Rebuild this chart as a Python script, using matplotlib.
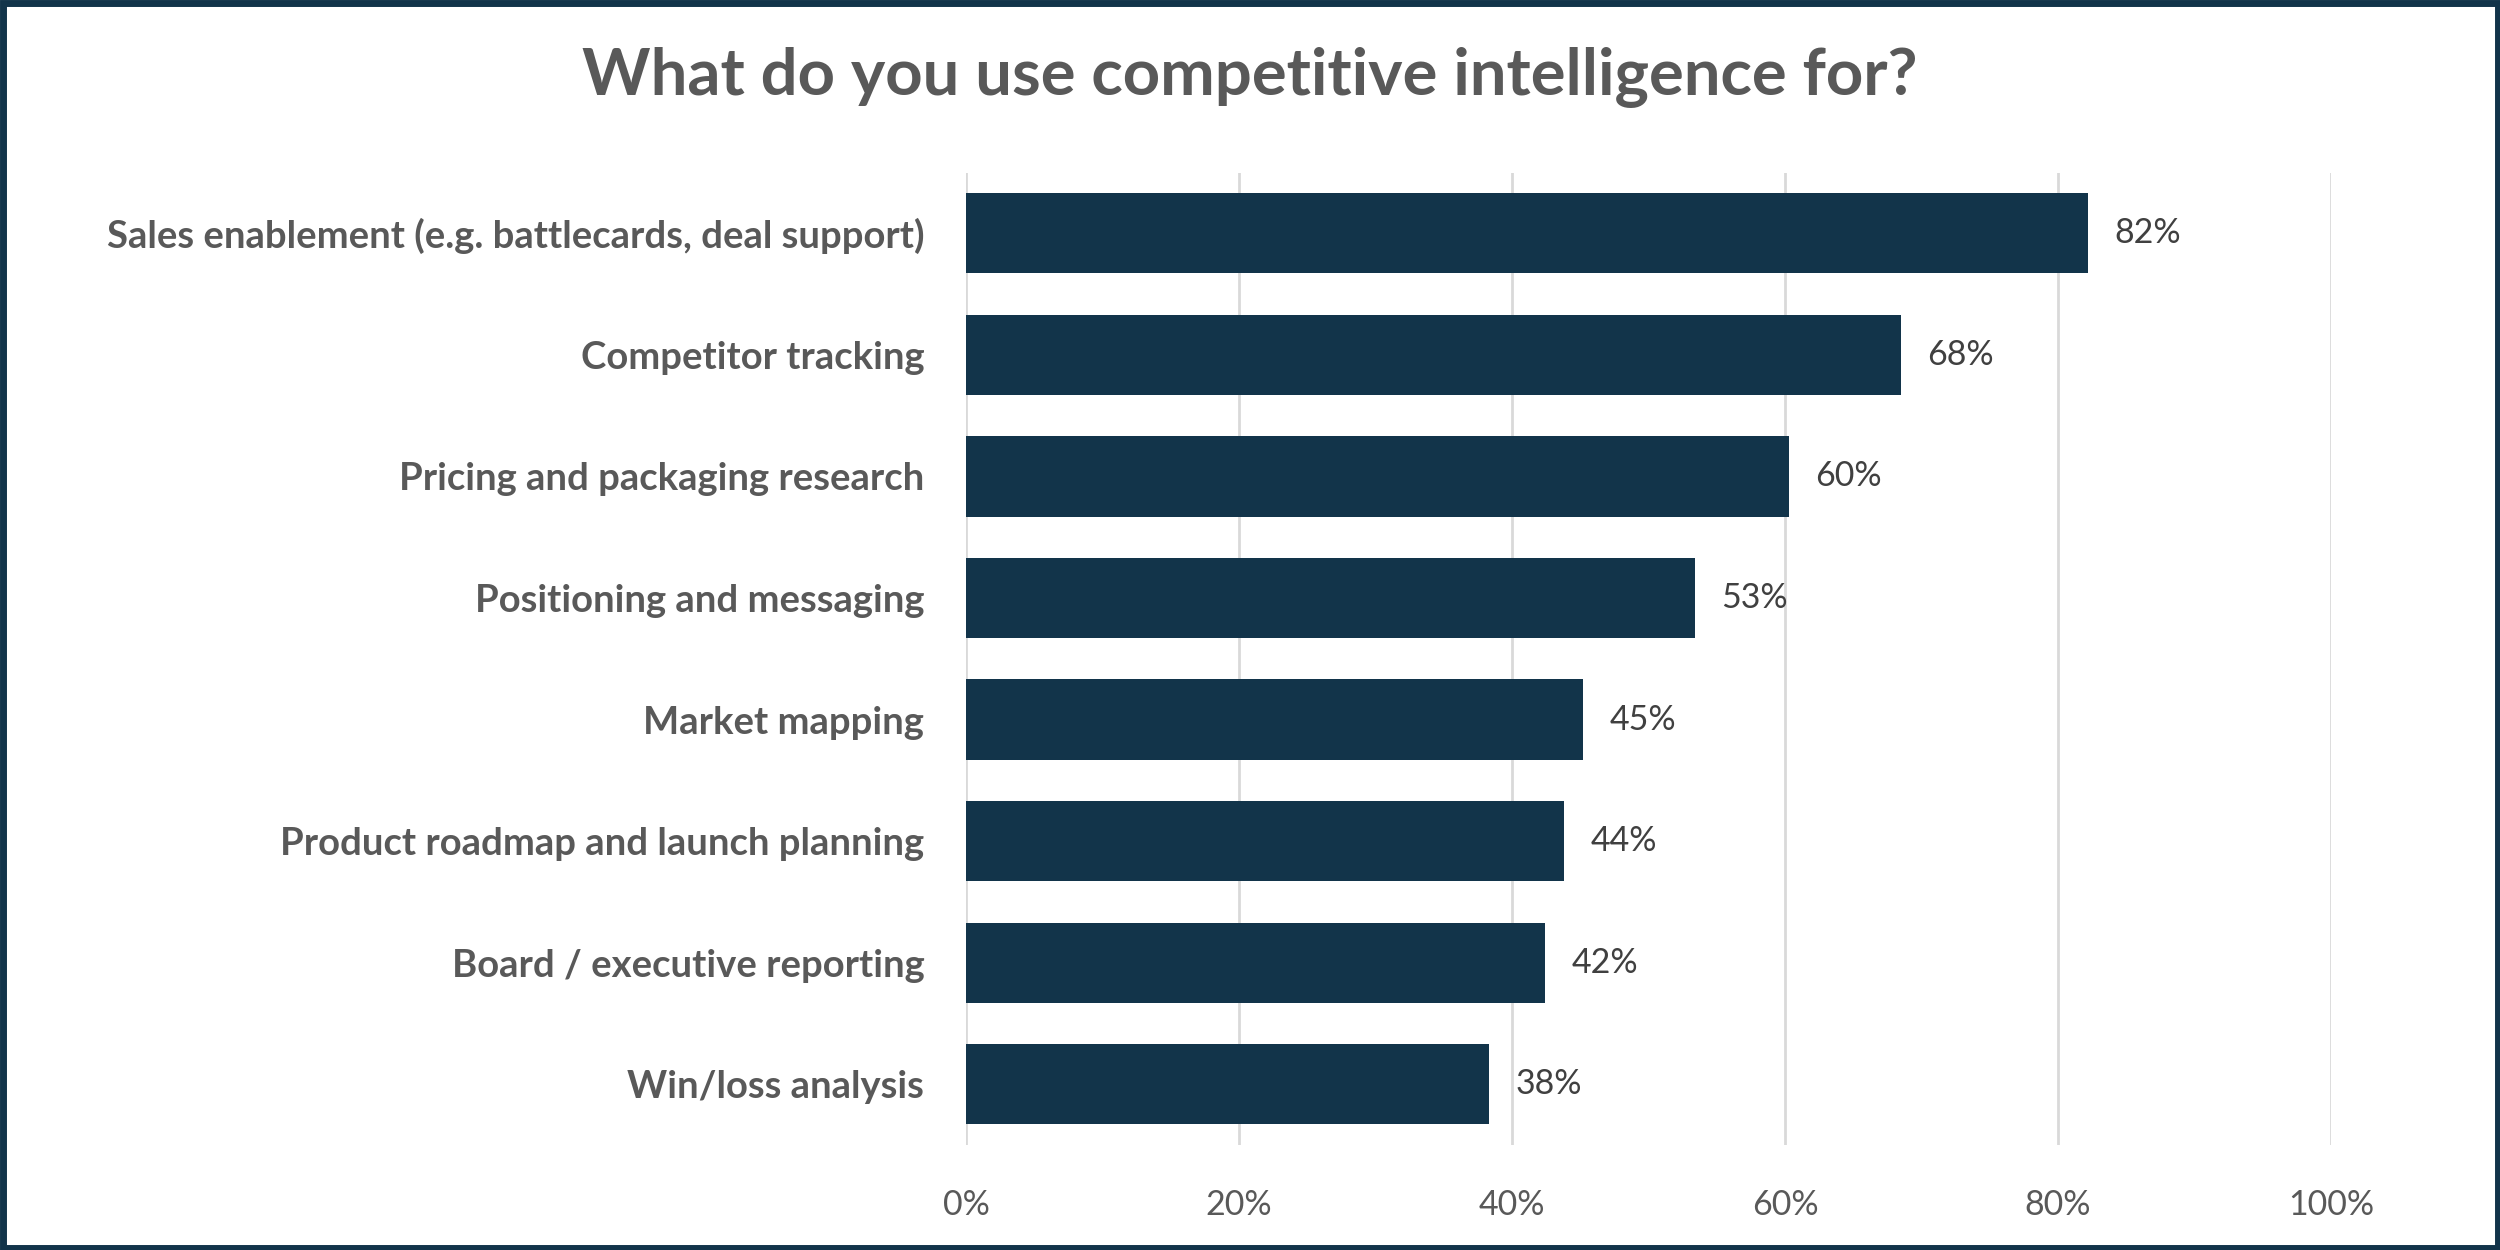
"""
Horizontal bar chart: what competitive intelligence is used for.
"""

import matplotlib.pyplot as plt
from matplotlib.patches import Rectangle

# Data (top to bottom), bar lengths
categories = [
    'Sales enablement (e.g. battlecards, deal support)',
    'Competitor tracking',
    'Pricing and packaging research',
    'Positioning and messaging',
    'Market mapping',
    'Product roadmap and launch planning',
    'Board / executive reporting',
    'Win/loss analysis',
]
values = [82.2, 68.5, 60.3, 53.4, 45.2, 43.8, 42.4, 38.3]
tick_values = [0, 20, 40, 60, 80, 100]
tick_labels = [f'{t}%' for t in tick_values]

title = 'What do you use competitive intelligence for?'

bar_color = '#12344a'
text_gray = '#595959'
grid_gray = '#d9d9d9'

plt.rcParams['font.family'] = ['Lato', 'DejaVu Sans']

fig = plt.figure(figsize=(25, 12.5), dpi=100)
ax = fig.add_axes([0.3864, 0.084, 0.5460, 0.778])

y = list(range(len(categories)))
ax.barh(y, values, height=0.66, color=bar_color, zorder=3)

for yi, v in zip(y, values):
    ax.annotate(f'{round(v)}%', xy=(v, yi), xytext=(19, 0), textcoords='offset points',
                va='center', ha='left', fontsize=24.5, color='#404040')

ax.set_xlim(0, 100)
ax.set_ylim(len(categories) - 0.5, -0.5)
ax.set_xticks(tick_values)
ax.set_xticklabels(tick_labels, fontsize=24.5, color=text_gray)
ax.set_yticks(y)
ax.set_yticklabels(categories, fontsize=27.5, fontweight='bold', color=text_gray)
ax.tick_params(axis='both', length=0)
ax.tick_params(axis='x', pad=32)
ax.tick_params(axis='y', pad=30)
ax.grid(axis='x', color=grid_gray, linewidth=2, zorder=0)
for s in ax.spines.values():
    s.set_visible(False)

fig.text(0.5, 0.938, title, ha='center', va='center', fontsize=47,
         fontweight='bold', color=text_gray)

# dark frame around the whole figure
fig.patches.append(Rectangle((0.001, 0.002), 0.998, 0.996, transform=fig.transFigure,
                             fill=False, edgecolor=bar_color, linewidth=5))

fig.savefig('out.png', dpi=100)
plt.close(fig)
